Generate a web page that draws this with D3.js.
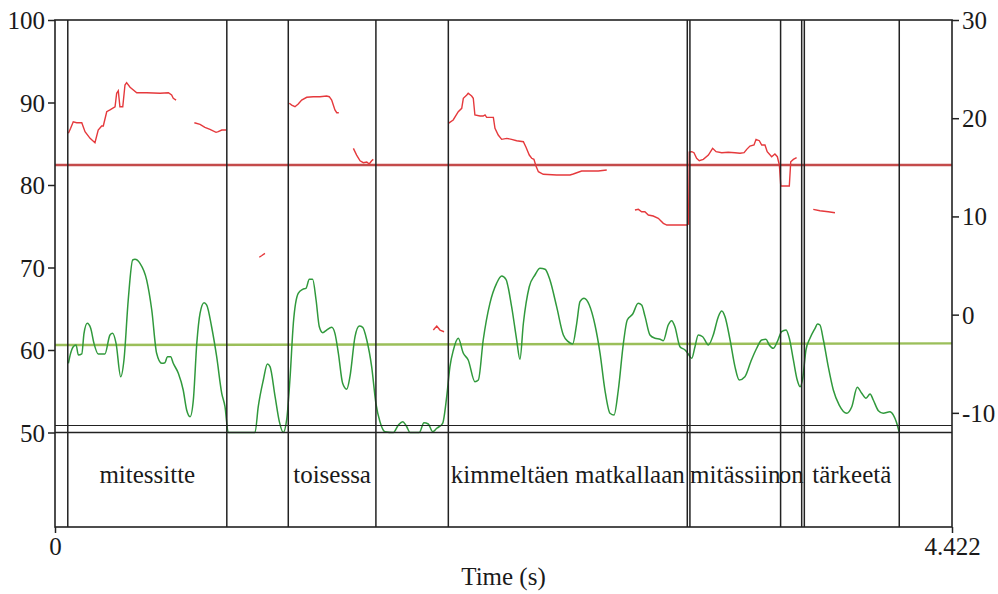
<!DOCTYPE html>
<html>
<head>
<meta charset="utf-8">
<script src="https://cdn.jsdelivr.net/npm/d3@7"></script>
<style>
  body { margin: 0; background: #fff; }
  svg text { font-family: "Liberation Serif", "Times New Roman", serif; fill: #1a1a1a; }
</style>
</head>
<body>
<svg id="chart" width="998" height="594"></svg>
<script>
// time axis (s)
const totalDuration = 4.422;

// text tier
const wordLabels = ["mitessitte", "toisessa", "kimmeltäen matkallaan", "mitässiin", "on", "tärkeetä"];
const wordStarts = [0.063, 1.150, 1.939, 3.130, 3.577, 3.694];
const wordEnds   = [0.847, 1.582, 3.117, 3.577, 3.681, 4.162];
const boundaries = [0.063, 0.847, 1.150, 1.582, 1.939, 3.117, 3.130, 3.577, 3.681, 3.694, 4.162];

// axis ticks
const leftTicks = [50, 60, 70, 80, 90, 100];
const rightTicks = [-10, 0, 10, 20, 30];
const timeTicks = [0, 4.422];

// pitch (right axis, semitones), null = unvoiced gap
const pitchTime = [
  0.066, 0.077, 0.090, 0.107, 0.132, 0.148, 0.173, 0.197, 0.213, 0.230, 0.238, 0.255, 0.271, 0.296, 0.304, 0.312,
  0.320, 0.334, 0.345, 0.353, 0.370, 0.403, 0.452, 0.518, 0.559, 0.575, 0.583, 0.597, null,
  0.687, 0.715, 0.739, 0.764, 0.794, 0.805, 0.822, 0.843, null,
  1.007, 1.020, 1.035, null,
  1.155, 1.167, 1.183, 1.199, 1.216, 1.241, 1.273, 1.306, 1.339, 1.352, 1.364, 1.372, 1.380, 1.389, 1.399, null,
  1.471, 1.487, 1.504, 1.520, 1.537, 1.549, 1.561, 1.569, null,
  1.865, 1.882, 1.898, 1.918, null,
  1.939, 1.963, 1.988, 2.005, 2.013, 2.030, 2.037, 2.054, 2.062, 2.070, 2.095, 2.111, 2.120, 2.128, 2.144, 2.161,
  2.169, 2.185, 2.202, 2.227, 2.251, 2.276, 2.309, 2.322, 2.338, 2.350, 2.361, 2.371, 2.383, 2.407, 2.473, 2.539,
  2.555, 2.596, 2.637, 2.678, 2.720, null,
  2.859, 2.876, 2.892, 2.908, 2.925, 2.949, 2.974, 2.999, 3.016, 3.048, 3.081, 3.114, 3.123, 3.127, 3.139, 3.150,
  3.163, 3.176, 3.196, 3.221, 3.242, 3.259, 3.287, 3.319, 3.352, 3.377, 3.397, 3.410, 3.426, 3.446, 3.456, 3.472,
  3.484, 3.500, 3.511, 3.533, 3.549, 3.561, 3.571, 3.578, 3.620, 3.627, 3.640, 3.656, null,
  3.738, 3.771, 3.812, 3.845
];
const pitchST = [
  18.46, 18.97, 19.64, 19.54, 19.54, 18.63, 17.95, 17.51, 18.80, 19.21, 19.21, 20.66, 20.84, 21.17, 22.54, 22.80,
  21.17, 21.17, 23.38, 23.62, 23.15, 22.60, 22.60, 22.54, 22.60, 22.36, 22.03, 21.85, null,
  19.54, 19.38, 19.07, 18.87, 18.56, 18.63, 18.80, 18.80, null,
  5.84, 6.02, 6.24, null,
  21.52, 21.34, 21.17, 21.45, 21.85, 22.13, 22.19, 22.19, 22.26, 22.19, 21.85, 21.34, 20.84, 20.56, 20.56, null,
  16.93, 16.25, 15.67, 15.47, 15.54, 15.34, 15.67, 15.81, null,
  -1.57, -1.16, -1.57, -1.74, null,
  19.48, 19.82, 20.66, 21.01, 22.03, 22.36, 22.54, 22.26, 22.03, 20.33, 20.22, 20.22, 20.33, 20.09, 20.09, 20.09,
  18.97, 18.29, 17.85, 17.95, 17.85, 17.71, 17.61, 17.04, 16.25, 15.92, 15.81, 15.13, 14.55, 14.29, 14.22, 14.22,
  14.32, 14.62, 14.62, 14.62, 14.73, null,
  10.65, 10.72, 10.48, 10.48, 10.14, 10.04, 9.81, 9.30, 9.12, 9.12, 9.12, 9.12, 9.23, 16.56, 16.59, 16.49,
  15.92, 15.67, 15.81, 16.25, 16.93, 16.59, 16.49, 16.53, 16.49, 16.43, 16.49, 16.83, 17.17, 17.27, 17.85, 17.71,
  17.27, 17.27, 16.59, 16.08, 16.35, 16.08, 15.23, 13.10, 13.10, 15.57, 15.81, 15.98, null,
  10.72, 10.58, 10.48, 10.38
];

// intensity (left axis, dB)
const intensityTime = [
  0.066, 0.077, 0.090, 0.104, 0.115, 0.132, 0.143, 0.159, 0.176, 0.192, 0.213, 0.246, 0.271, 0.284, 0.301, 0.324,
  0.340, 0.361, 0.383, 0.394, 0.419, 0.452, 0.477, 0.501, 0.526, 0.542, 0.554, 0.570, 0.583, 0.608, 0.632, 0.649,
  0.666, 0.682, 0.699, 0.715, 0.735, 0.748, 0.772, 0.797, 0.822, 0.838, 0.854, 0.986, 1.002, 1.027, 1.047, 1.060,
  1.085, 1.106, 1.125, 1.142, 1.158, 1.175, 1.199, 1.221, 1.237, 1.254, 1.270, 1.287, 1.303, 1.320, 1.339, 1.364,
  1.380, 1.397, 1.418, 1.438, 1.454, 1.479, 1.500, 1.517, 1.537, 1.561, 1.582, 1.602, 1.627, 1.668, 1.693, 1.714,
  1.734, 1.750, 1.796, 1.819, 1.840, 1.862, 1.882, 1.911, 1.931, 1.947, 1.964, 1.988, 2.013, 2.037, 2.070, 2.087,
  2.111, 2.144, 2.177, 2.202, 2.223, 2.251, 2.276, 2.292, 2.309, 2.338, 2.366, 2.391, 2.416, 2.440, 2.473, 2.506,
  2.530, 2.552, 2.572, 2.588, 2.608, 2.634, 2.662, 2.687, 2.711, 2.736, 2.756, 2.777, 2.802, 2.821, 2.848, 2.875,
  2.892, 2.909, 2.933, 2.958, 2.983, 2.999, 3.023, 3.040, 3.056, 3.081, 3.106, 3.122, 3.139, 3.155, 3.171, 3.193,
  3.221, 3.245, 3.270, 3.287, 3.303, 3.328, 3.352, 3.373, 3.401, 3.430, 3.459, 3.484, 3.505, 3.521, 3.541, 3.561,
  3.582, 3.604, 3.620, 3.640, 3.659, 3.673, 3.686, 3.702, 3.722, 3.747, 3.759, 3.771, 3.788, 3.812, 3.837, 3.866,
  3.903, 3.928, 3.955, 3.977, 3.998, 4.018, 4.034, 4.059, 4.083, 4.116, 4.133, 4.149, 4.162
];
const intensityDb = [
  58.39, 59.60, 60.40, 60.61, 59.39, 59.52, 62.02, 63.24, 62.63, 60.81, 59.52, 59.52, 61.82, 62.02, 60.81, 56.76,
  58.79, 66.06, 70.91, 70.99, 70.51, 68.48, 64.85, 59.60, 58.39, 58.46, 59.19, 59.19, 58.39, 57.18, 55.15, 52.73,
  51.92, 53.94, 60.81, 64.45, 65.73, 65.45, 62.82, 59.19, 54.75, 53.13, 50.00, 50.00, 53.13, 56.36, 58.30, 57.98,
  54.34, 51.31, 50.00, 51.52, 56.36, 63.24, 66.87, 67.36, 67.48, 68.57, 68.57, 66.06, 62.82, 62.10, 62.42, 62.75,
  62.02, 59.60, 55.96, 55.24, 56.76, 61.61, 62.91, 62.75, 61.21, 57.98, 53.54, 51.31, 50.10, 50.00, 50.91, 51.31,
  50.70, 50.00, 50.00, 51.19, 51.03, 50.10, 50.51, 51.12, 54.34, 57.98, 60.00, 61.42, 59.60, 58.79, 56.16, 56.36,
  61.21, 65.66, 68.08, 68.97, 68.57, 65.25, 61.21, 58.87, 63.24, 67.67, 69.09, 69.90, 69.78, 68.48, 65.25, 61.82,
  61.01, 60.73, 63.24, 65.85, 66.27, 65.45, 63.03, 59.60, 55.15, 52.33, 52.12, 55.15, 60.81, 63.64, 64.36, 65.66,
  65.45, 64.04, 61.82, 61.42, 61.30, 61.13, 63.03, 63.55, 62.82, 60.40, 60.00, 59.52, 58.99, 60.40, 61.82, 61.61,
  60.61, 61.82, 64.04, 64.73, 64.04, 61.21, 57.98, 56.36, 56.76, 58.58, 60.21, 61.21, 61.30, 60.61, 60.21, 61.01,
  62.22, 62.42, 61.42, 58.79, 56.36, 55.55, 56.57, 60.00, 61.42, 62.63, 63.15, 63.03, 61.21, 57.98, 55.15, 53.33,
  52.33, 53.13, 55.48, 54.75, 54.15, 54.67, 53.94, 52.64, 52.33, 52.52, 52.12, 51.19, 50.00
];

// reference lines: mean pitch (right axis) and intensity trend (left axis), at t = 0 and t = end
const pitchMeanLine = [15.23, 15.23];
const intensityTrendLine = [60.6, 60.8];
const floorLineDb = 50.85;

const svg = d3.select("#chart");
const plot = { left: 55, right: 952, top: 20, bottom: 432.5, tierBottom: 527 };

const x = d3.scaleLinear().domain([0, totalDuration]).range([plot.left, plot.right]);
const yL = d3.scaleLinear().domain([50, 100]).range([plot.bottom, plot.top]);
const yR = d3.scaleLinear().domain([-12, 30]).range([plot.bottom, plot.top]);

// intensity trend + pitch mean lines
svg.append("line")
  .attr("x1", x(0)).attr("x2", x(totalDuration))
  .attr("y1", yL(intensityTrendLine[0])).attr("y2", yL(intensityTrendLine[1]))
  .attr("stroke", "#9bbf5a").attr("stroke-width", 2.4);

svg.append("line")
  .attr("x1", x(0)).attr("x2", x(totalDuration))
  .attr("y1", yR(pitchMeanLine[0])).attr("y2", yR(pitchMeanLine[1]))
  .attr("stroke", "#c44b4b").attr("stroke-width", 2.4);

// curves
const intensityData = intensityTime.map((t, i) => ({ t: t, v: intensityDb[i] }));
const pitchData = pitchTime.map((t, i) => ({ t: t, v: pitchST[i] }));

svg.append("path")
  .datum(intensityData)
  .attr("fill", "none")
  .attr("stroke", "#30993c")
  .attr("stroke-width", 1.5)
  .attr("d", d3.line().curve(d3.curveMonotoneX).x(d => x(d.t)).y(d => yL(d.v)));

svg.append("path")
  .datum(pitchData)
  .attr("fill", "none")
  .attr("stroke", "#e5393c")
  .attr("stroke-width", 1.4)
  .attr("d", d3.line().defined(d => d.t !== null).x(d => x(d.t)).y(d => yR(d.v)));

// tier lines
const black = "#222";
svg.append("line")
  .attr("x1", x(0)).attr("x2", x(totalDuration))
  .attr("y1", yL(floorLineDb)).attr("y2", yL(floorLineDb))
  .attr("stroke", black).attr("stroke-width", 1.2);
svg.append("line")
  .attr("x1", x(0)).attr("x2", x(totalDuration))
  .attr("y1", plot.bottom).attr("y2", plot.bottom)
  .attr("stroke", black).attr("stroke-width", 1.5);

svg.selectAll(".boundary")
  .data(boundaries)
  .enter().append("line")
  .attr("class", "boundary")
  .attr("x1", d => x(d)).attr("x2", d => x(d))
  .attr("y1", plot.top).attr("y2", plot.tierBottom)
  .attr("stroke", black).attr("stroke-width", 1.5);

// frame
svg.append("rect")
  .attr("x", plot.left).attr("y", plot.top)
  .attr("width", plot.right - plot.left).attr("height", plot.tierBottom - plot.top)
  .attr("fill", "none").attr("stroke", black).attr("stroke-width", 1.6);

// words
svg.selectAll(".word")
  .data(wordLabels)
  .enter().append("text")
  .attr("class", "word")
  .attr("x", (d, i) => x((wordStarts[i] + wordEnds[i]) / 2))
  .attr("y", 483)
  .attr("text-anchor", "middle")
  .style("font-size", "25px")
  .text(d => d);

// axes
function styleAxis(g) {
  g.select(".domain").remove();
  g.selectAll(".tick line").attr("stroke", black).attr("stroke-width", 1.5);
  g.selectAll(".tick text")
    .attr("font-family", null).attr("font-size", null)
    .style("font-size", "25px").style("fill", "#1a1a1a");
}

svg.append("g")
  .attr("transform", `translate(${plot.left},0)`)
  .call(d3.axisLeft(yL).tickValues(leftTicks).tickSize(7).tickPadding(3).tickFormat(d => String(d)))
  .call(styleAxis)
  .selectAll(".tick text").attr("dy", "0.34em");

svg.append("g")
  .attr("transform", `translate(${plot.right},0)`)
  .call(d3.axisRight(yR).tickValues(rightTicks).tickSize(7).tickPadding(3).tickFormat(d => String(d)))
  .call(styleAxis)
  .selectAll(".tick text").attr("dy", "0.34em");

svg.append("g")
  .attr("transform", `translate(0,${plot.tierBottom})`)
  .call(d3.axisBottom(x).tickValues(timeTicks).tickSize(6).tickPadding(4).tickFormat(d => d === 0 ? "0" : "4.422"))
  .call(styleAxis);

svg.append("text")
  .attr("x", (plot.left + plot.right) / 2)
  .attr("y", 585)
  .attr("text-anchor", "middle")
  .style("font-size", "25px")
  .text("Time (s)");
</script>
</body>
</html>
